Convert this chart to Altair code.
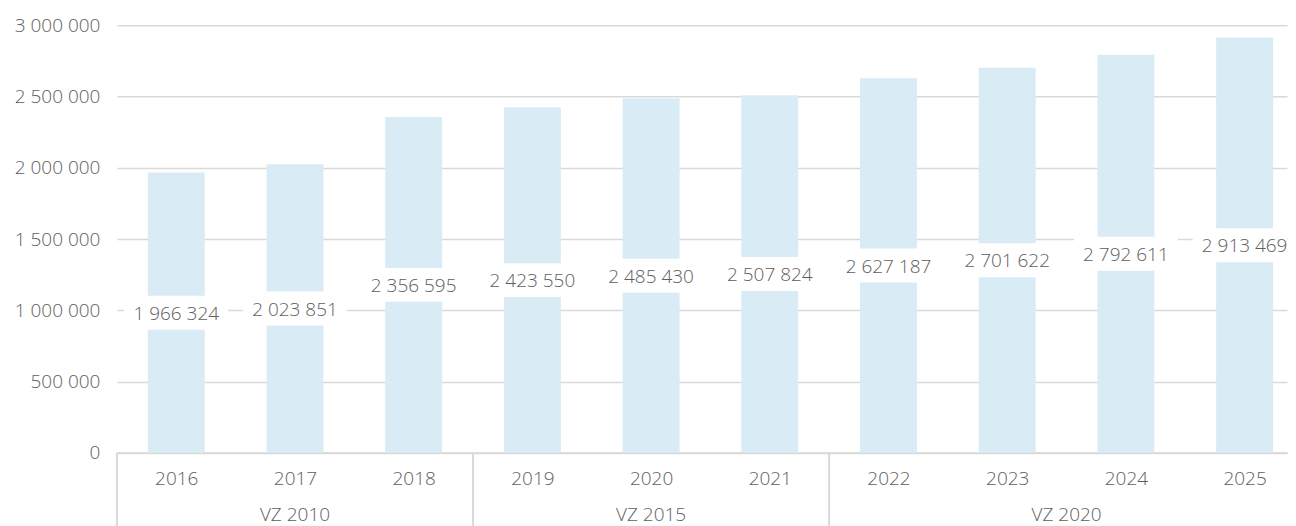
import altair as alt
import pandas as pd

years = [2016, 2017, 2018, 2019, 2020, 2021, 2022, 2023, 2024, 2025]
values = [1966324, 2023851, 2356595, 2423550, 2485430, 2507824, 2627187, 2701622, 2792611, 2913469]
groups = ["VZ 2010", "VZ 2010", "VZ 2010", "VZ 2015", "VZ 2015", "VZ 2015",
          "VZ 2020", "VZ 2020", "VZ 2020", "VZ 2020"]
y_ticks = [0, 500000, 1000000, 1500000, 2000000, 2500000, 3000000]

df = pd.DataFrame({"year": years, "value": values, "group": groups})
df["half"] = df["value"] / 2
df["label"] = [f"{v:,}".replace(",", " ") for v in values]

g = df.groupby("group", sort=False)["year"]
gdf = pd.DataFrame({
    "group": list(g.mean().index),
    "center": list(g.mean().values),
    "start": list((g.min() - 0.5).values),
})

W, H = 1171, 428
FONT = "Open Sans"
FW = 300
FS = 19
GREY = "#5e5e5e"
LINE = "#d9d9d9"
BAR = "#d9ecf5"

xscale = alt.Scale(domain=[2015.5, 2025.357], nice=False, zero=False, padding=0)
yscale = alt.Scale(domain=[0, 3000000], nice=False)

x_enc = alt.X("year:Q", scale=xscale, axis=alt.Axis(
    values=years, format="d", grid=False, ticks=False, domain=True,
    domainColor=LINE, domainWidth=2, labelFont=FONT, labelFontSize=FS, labelFontWeight=FW,
    labelColor=GREY, labelPadding=17, title=None, labelFlush=False))
y_enc = alt.Y("value:Q", scale=yscale, axis=alt.Axis(
    values=y_ticks, labelExpr="replace(replace(format(datum.value, ','), ',', ' '), ',', ' ')",
    domain=False, ticks=False, gridColor=LINE, gridWidth=1.5,
    labelFont=FONT, labelFontSize=FS, labelFontWeight=FW, labelColor=GREY,
    labelPadding=17, title=None))

base = alt.Chart(df)

bars = base.mark_bar(color=BAR, size=57).encode(x=x_enc, y=y_enc)

boxes = base.mark_bar(color="white", size=104, yOffset=-17, y2Offset=17, clip=True).encode(
    x=alt.X("year:Q", scale=xscale),
    y=alt.Y("half:Q", scale=yscale),
    y2="half:Q",
)

labels = base.mark_text(font=FONT, fontSize=FS, fontWeight=FW, color=GREY,
                        baseline="middle", dy=1).encode(
    x=alt.X("year:Q", scale=xscale),
    y=alt.Y("half:Q", scale=yscale),
    text="label:N",
)

seps = alt.Chart(gdf).mark_rule(color=LINE, strokeWidth=2).encode(
    x=alt.X("start:Q", scale=xscale),
    y=alt.value(H),
    y2=alt.value(H + 80),
)

glabels = alt.Chart(gdf).mark_text(font=FONT, fontSize=FS, fontWeight=FW, color=GREY,
                                   baseline="middle").encode(
    x=alt.X("center:Q", scale=xscale),
    y=alt.value(H + 62),
    text="group:N",
)

chart = alt.layer(bars, boxes, labels, seps, glabels).properties(
    width=W, height=H,
    padding={"left": 6, "top": 8, "right": 0, "bottom": 0},
).configure_view(stroke=None)

chart.save("out.html", embed_options={"renderer": "svg", "actions": False})
